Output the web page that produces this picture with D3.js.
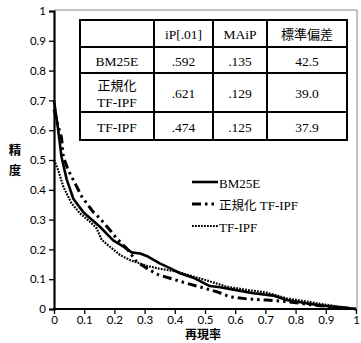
<!DOCTYPE html>
<html lang="ja"><head><meta charset="utf-8">
<script src="https://cdn.jsdelivr.net/npm/d3@7"></script>
<style>
body{margin:0;background:#fff;}
svg{display:block;}
</style></head>
<body>
<svg id="chart" width="361" height="343"></svg>
<script>
// ---- data ----
const seriesNames = ["BM25E", "正規化 TF-IPF", "TF-IPF"];
const bm25eRecall    = [0, 0.014, 0.025, 0.042, 0.064, 0.097, 0.152, 0.196, 0.229, 0.257, 0.285, 0.307, 0.35, 0.384, 0.417, 0.461, 0.516, 0.55, 0.594, 0.66, 0.726, 0.77, 0.836, 0.892, 0.95, 1.0];
const bm25ePrecision = [0.70, 0.60, 0.51, 0.435, 0.37, 0.325, 0.276, 0.23, 0.21, 0.19, 0.186, 0.178, 0.153, 0.137, 0.12, 0.105, 0.077, 0.073, 0.065, 0.053, 0.045, 0.03, 0.019, 0.011, 0.005, 0.0];
const normRecall     = [0, 0.012, 0.025, 0.031, 0.047, 0.064, 0.092, 0.13, 0.152, 0.185, 0.207, 0.24, 0.274, 0.307, 0.34, 0.384, 0.44, 0.494, 0.539, 0.583, 0.638, 0.704, 0.77, 0.815, 0.88, 0.95, 1.0];
const normPrecision  = [0.67, 0.62, 0.575, 0.51, 0.466, 0.433, 0.377, 0.325, 0.304, 0.265, 0.237, 0.204, 0.158, 0.137, 0.117, 0.103, 0.086, 0.071, 0.058, 0.041, 0.034, 0.03, 0.025, 0.019, 0.011, 0.005, 0.0];
const tfipfRecall    = [0, 0.014, 0.031, 0.058, 0.086, 0.119, 0.141, 0.158, 0.185, 0.219, 0.252, 0.307, 0.35, 0.406, 0.461, 0.505, 0.572, 0.638, 0.704, 0.77, 0.836, 0.903, 0.95, 1.0];
const tfipfPrecision = [0.50, 0.466, 0.41, 0.355, 0.321, 0.293, 0.271, 0.232, 0.209, 0.181, 0.164, 0.145, 0.135, 0.126, 0.109, 0.096, 0.075, 0.064, 0.055, 0.036, 0.025, 0.014, 0.007, 0.0];
const xTicks = [0, 0.1, 0.2, 0.3, 0.4, 0.5, 0.6, 0.7, 0.8, 0.9, 1];
const yTicks = [0, 0.1, 0.2, 0.3, 0.4, 0.5, 0.6, 0.7, 0.8, 0.9, 1];
const tableHeader = ["", "iP[.01]", "MAiP", "標準偏差"];
const tableRows = [
  ["BM25E", ".592", ".135", "42.5"],
  ["正規化\nTF-IPF", ".621", ".129", "39.0"],
  ["TF-IPF", ".474", ".125", "37.9"]
];
const xTitle = "再現率";
const yTitle = ["精", "度"];

// ---- layout ----
const svg = d3.select("#chart");
const L = 54, R = 356, T = 11, B = 309;
const x = d3.scaleLinear().domain([0, 1]).range([L, R]);
const y = d3.scaleLinear().domain([0, 1]).range([B, T]);

const serif = "'Liberation Serif','Times New Roman',serif";
const sans = "Lato,'Liberation Sans',sans-serif";
const cjk = "'Noto Sans CJK JP',sans-serif";
const isCJK = s => /[\u3000-\u9fff]/.test(s);

// writes text splitting CJK and Latin runs into tspans with proper fonts
function richText(sel, str, size) {
  const parts = str.match(/[\u3000-\u9fff]+|[^\u3000-\u9fff]+/g) || [];
  parts.forEach(p => {
    sel.append("tspan").attr("font-family", isCJK(p) ? cjk : serif)
      .attr("font-size", isCJK(p) ? size - 0.5 : size).text(p);
  });
  return sel;
}

// plot border (top & right)
svg.append("path").attr("d", `M${L},${T - 1}H${R + 1}V${B}`)
  .attr("fill", "none").attr("stroke", "#888").attr("stroke-width", 1);

// curves
const styles = [
  {dash: null, width: 2.6},
  {dash: "9,4,2.5,4,2.5,4", width: 3},
  {dash: "1.8,1.2", width: 2.2}
];
const series = [
  {r: bm25eRecall, p: bm25ePrecision},
  {r: normRecall, p: normPrecision},
  {r: tfipfRecall, p: tfipfPrecision}
];
const line = d3.line().x(d => x(d[0])).y(d => y(d[1])).curve(d3.curveLinear);
series.forEach((s, i) => {
  svg.append("path")
    .datum(s.r.map((v, j) => [v, s.p[j]]))
    .attr("d", line)
    .attr("fill", "none")
    .attr("stroke", "#000")
    .attr("stroke-width", styles[i].width)
    .attr("stroke-dasharray", styles[i].dash)
    .attr("stroke-linejoin", "round");
});

// axes
const xAxis = d3.axisBottom(x).tickValues(xTicks).tickFormat(d3.format("")).tickSize(5).tickPadding(2);
const yAxis = d3.axisLeft(y).tickValues(yTicks).tickFormat(d3.format("")).tickSize(5).tickPadding(3);
const gx = svg.append("g").attr("transform", `translate(0,${B})`).call(xAxis);
const gy = svg.append("g").attr("transform", `translate(${L},0)`).call(yAxis);
[gx, gy].forEach(g => {
  g.select(".domain").attr("stroke", "#000").attr("stroke-width", 2.2);
  g.selectAll(".tick line").attr("stroke", "#000").attr("stroke-width", 1.3);
  g.selectAll("text").attr("font-family", sans).attr("font-size", 11.5).attr("fill", "#000");
});
gx.select(".domain").attr("d", `M${L - 1},0H${R}`);

// axis titles
svg.append("text").attr("x", 203).attr("y", 339)
  .attr("text-anchor", "middle").attr("font-family", cjk).attr("font-weight", "bold")
  .attr("font-size", 12).text(xTitle);
yTitle.forEach((c, i) => {
  svg.append("text").attr("x", 15).attr("y", 155 + i * 20)
    .attr("text-anchor", "middle").attr("font-family", cjk).attr("font-weight", "bold")
    .attr("font-size", 12.5).text(c);
});

// legend
const legY = [182, 204, 226];
seriesNames.forEach((n, i) => {
  svg.append("line").attr("x1", 192).attr("x2", 218).attr("y1", legY[i]).attr("y2", legY[i])
    .attr("stroke", "#000").attr("stroke-width", styles[i].width)
    .attr("stroke-dasharray", styles[i].dash);
  const t = svg.append("text").attr("x", 219).attr("y", legY[i]).attr("dy", "0.35em");
  richText(t, n, 13);
});

// table
const colX = [80, 154, 213, 267, 347];
const rowY = [20, 47, 73, 112, 140];
const tg = svg.append("g");
tg.append("rect").attr("x", colX[0]).attr("y", rowY[0])
  .attr("width", colX[4] - colX[0]).attr("height", rowY[4] - rowY[0])
  .attr("fill", "#fff").attr("stroke", "#000").attr("stroke-width", 2);
colX.slice(1, 4).forEach(cx => tg.append("line").attr("x1", cx).attr("x2", cx)
  .attr("y1", rowY[0]).attr("y2", rowY[4]).attr("stroke", "#000").attr("stroke-width", 2));
rowY.slice(1, 4).forEach(ry => tg.append("line").attr("y1", ry).attr("y2", ry)
  .attr("x1", colX[0]).attr("x2", colX[4]).attr("stroke", "#000").attr("stroke-width", 2));
const allRows = [tableHeader, ...tableRows];
allRows.forEach((row, ri) => {
  const cy = (rowY[ri] + rowY[ri + 1]) / 2;
  row.forEach((cell, ci) => {
    const cx = (colX[ci] + colX[ci + 1]) / 2;
    const lines = cell.split("\n");
    lines.forEach((ln, li) => {
      const t = tg.append("text").attr("x", cx)
        .attr("y", cy + (li - (lines.length - 1) / 2) * 17)
        .attr("dy", "0.35em").attr("text-anchor", "middle");
      richText(t, ln, 13.5);
    });
  });
});
</script>
</body></html>
